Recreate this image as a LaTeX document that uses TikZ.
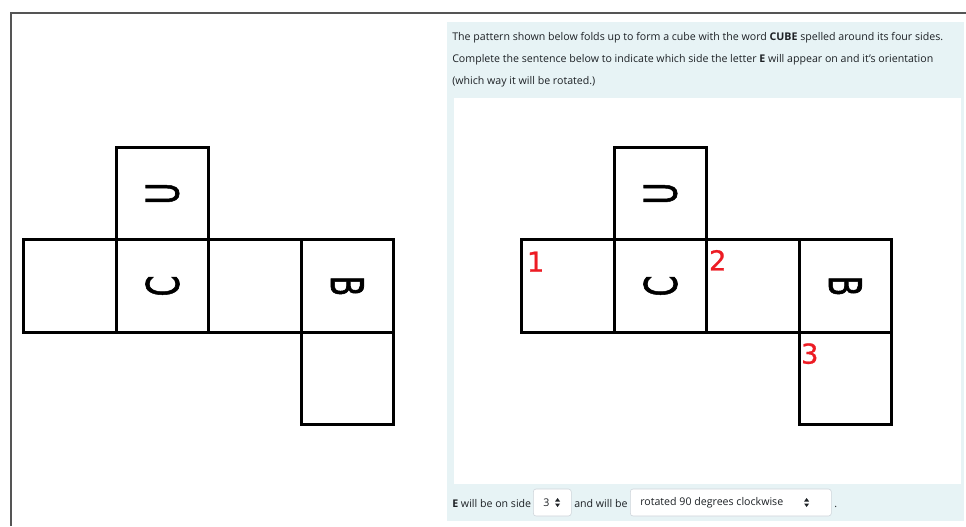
\documentclass[tikz,border=0pt]{standalone}
\usepackage{fontspec,graphicx}
\setmainfont{Open Sans}
\newfontfamily\facefont[FakeBold=1.5]{DejaVu Sans Condensed}
\newfontfamily\numfont[FakeBold=0.8]{DejaVu Sans}
\usetikzlibrary{positioning}
\definecolor{qpanel}{HTML}{E7F3F5}
\definecolor{qtext}{HTML}{1D2125}
\definecolor{qred}{HTML}{ED1C24}
\definecolor{qframe}{HTML}{555555}
\definecolor{qborder}{HTML}{CED4DA}
\newcommand\facelet[2]{\rotatebox{#1}{\scalebox{0.74}[1]{#2}}}
\tikzset{updown/.pic={\fill[qtext] (-2.5,-1) -- (0,-4.5) -- (2.5,-1) -- cycle;
    \fill[qtext] (-2.5,1) -- (0,4.5) -- (2.5,1) -- cycle;}}

\begin{document}
\begin{tikzpicture}[x=0.025cm,y=-0.025cm,
    face/.style={draw=black,line width=2.1pt,minimum size=2.31cm,inner sep=0pt,outer sep=0pt,font=\facefont\fontsize{32}{32}\selectfont},
    num/.style={text=qred,inner sep=0pt,font=\numfont\fontsize{19.5}{19.5}\selectfont},
    line/.style={anchor=base west,inner sep=0pt,text=qtext,font=\fontsize{7.55}{9}\selectfont},
    sel/.style={draw=qborder,fill=white,rounded corners=2pt,minimum height=0.675cm,inner sep=0pt,anchor=west}]
  \fill[white] (0,0) rectangle (966,526);
  \useasboundingbox (0,0) rectangle (966,526);
  \draw[qframe,line width=1.4pt] (11,526) -- (11,12.7) -- (966,12.7);
  % left net
  \node[face] (lc) at (162.5,286) {\facelet{90}{C}};
  \node[face,above=0pt of lc] (lu) {\facelet{90}{U}};
  \node[face,left=0pt of lc] (l1) {};
  \node[face,right=0pt of lc] (l2) {};
  \node[face,right=0pt of l2] (lb) {\facelet{-90}{B}};
  \node[face,below=0pt of lb] (l3) {};
  % question panel
  \fill[qpanel] (447,22) rectangle (964,521);
  \fill[white] (454,98) rectangle (961,484);
  \node[line] (q1) at (452,40) {The pattern shown below folds up to form a cube with the word \textbf{CUBE} spelled around its four sides.};
  \node[line] (q2) at (452,62) {Complete the sentence below to indicate which side the letter \textbf{E} will appear on and it's orientation};
  \node[line] (q3) at (452,84) {(which way it will be rotated.)};
  % right net
  \node[face] (rc) at (660.5,286) {\facelet{90}{C}};
  \node[face,above=0pt of rc] (ru) {\facelet{90}{U}};
  \node[face,left=0pt of rc] (r1) {};
  \node[face,right=0pt of rc] (r2) {};
  \node[face,right=0pt of r2] (rb) {\facelet{-90}{B}};
  \node[face,below=0pt of rb] (r3) {};
  \node[num,below right=0.29cm and 0.12cm of r1.north west] (n1) {1};
  \node[num,below right=0.25cm and 0.05cm of r2.north west] (n2) {2};
  \node[num,below right=0.27cm and 0.04cm of r3.north west] (n3) {3};
  % answer line
  \node[line] (a1) at (452,507) {\textbf{E} will be on side};
  \node[sel,minimum width=0.95cm] (side) at (533,502.5) {};
  \node[line,anchor=west,right=0.25cm of side.west] (sidev) {3};
  \pic at ([xshift=-0.35cm]side.east) {updown};
  \node[line] (a2) at (574,507) {and will be};
  \node[sel,minimum width=5.025cm] (turn) at (630,502.5) {};
  \node[line,anchor=west,right=0.25cm of turn.west] (turnv) {rotated 90 degrees clockwise};
  \pic at ([xshift=-0.625cm]turn.east) {updown};
  \node[line] (a3) at (834,507) {.};
\end{tikzpicture}
\end{document}
